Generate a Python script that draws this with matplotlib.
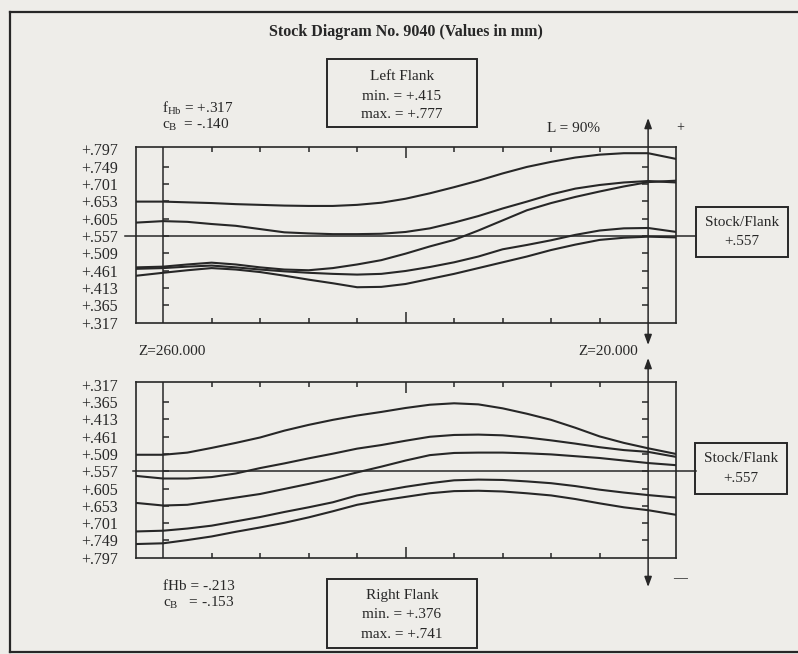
import numpy as np
import matplotlib.pyplot as plt
from matplotlib.patches import Rectangle
from matplotlib.lines import Line2D
from matplotlib.transforms import blended_transform_factory

plt.rcParams['font.family'] = ['Liberation Serif', 'DejaVu Serif']
plt.rcParams['mathtext.fontset'] = 'custom'
plt.rcParams['mathtext.rm'] = 'Liberation Serif'
plt.rcParams['mathtext.it'] = 'Liberation Serif:italic'

# measuring positions along the face width (Z in mm)
z_pts = [273, 260, 248, 236, 224, 212, 200, 188, 176, 164, 152, 140,
         128, 116, 104, 92, 80, 68, 56, 44, 32, 20, 6]

# left flank traces
left_a = [0.652, 0.652, 0.650, 0.648, 0.645, 0.643, 0.641, 0.640, 0.640, 0.643, 0.649, 0.660,
          0.675, 0.692, 0.710, 0.730, 0.748, 0.762, 0.774, 0.782, 0.786, 0.786, 0.770]
left_b = [0.594, 0.598, 0.596, 0.590, 0.585, 0.576, 0.567, 0.564, 0.562, 0.562, 0.563, 0.568,
          0.578, 0.594, 0.612, 0.633, 0.652, 0.672, 0.688, 0.698, 0.705, 0.709, 0.705]
left_c = [0.470, 0.472, 0.478, 0.483, 0.478, 0.470, 0.464, 0.462, 0.468, 0.478, 0.490, 0.508,
          0.528, 0.546, 0.572, 0.600, 0.628, 0.648, 0.665, 0.680, 0.694, 0.706, 0.710]
left_d = [0.466, 0.468, 0.472, 0.475, 0.470, 0.464, 0.459, 0.455, 0.452, 0.450, 0.452, 0.460,
          0.471, 0.484, 0.500, 0.520, 0.532, 0.545, 0.560, 0.572, 0.578, 0.579, 0.568]
left_e = [0.447, 0.455, 0.462, 0.468, 0.464, 0.457, 0.447, 0.436, 0.426, 0.415, 0.416, 0.424,
          0.438, 0.452, 0.468, 0.484, 0.500, 0.518, 0.533, 0.546, 0.552, 0.555, 0.553]

# right flank traces
right_a = [0.511, 0.511, 0.505, 0.492, 0.478, 0.463, 0.444, 0.428, 0.414, 0.402, 0.392, 0.381,
           0.372, 0.368, 0.371, 0.382, 0.397, 0.414, 0.436, 0.460, 0.478, 0.493, 0.509]
right_b = [0.570, 0.577, 0.577, 0.573, 0.563, 0.548, 0.535, 0.521, 0.508, 0.494, 0.484, 0.472,
           0.461, 0.456, 0.455, 0.457, 0.463, 0.471, 0.480, 0.490, 0.498, 0.503, 0.517]
right_c = [0.645, 0.652, 0.650, 0.640, 0.630, 0.620, 0.606, 0.592, 0.577, 0.560, 0.544, 0.527,
           0.512, 0.506, 0.505, 0.505, 0.507, 0.510, 0.515, 0.520, 0.527, 0.534, 0.540]
right_d = [0.724, 0.722, 0.716, 0.708, 0.696, 0.684, 0.670, 0.657, 0.643, 0.624, 0.612, 0.600,
           0.590, 0.582, 0.580, 0.581, 0.585, 0.590, 0.598, 0.608, 0.616, 0.623, 0.630]
right_e = [0.759, 0.757, 0.748, 0.738, 0.725, 0.713, 0.700, 0.685, 0.668, 0.650, 0.638, 0.628,
           0.618, 0.612, 0.611, 0.613, 0.618, 0.624, 0.634, 0.646, 0.657, 0.665, 0.678]

levels = [0.797, 0.749, 0.701, 0.653, 0.605, 0.557, 0.509, 0.461, 0.413, 0.365, 0.317]
level_labels = ['+.797', '+.749', '+.701', '+.653', '+.605', '+.557',
                '+.509', '+.461', '+.413', '+.365', '+.317']
z_start, z_end = 260, 20
z_ticks = [236, 212, 188, 164, 116, 92, 68, 44]
z_mid = 140
stock = 0.557

bg = '#eeede9'
ink = '#272727'
W, H = 798, 654


def fx(px):
    return px / W


def fy(py):
    return 1 - py / H


fig = plt.figure(figsize=(W / 100, H / 100), dpi=100)
fig.patch.set_facecolor(bg)

ax_top = fig.add_axes([fx(136), fy(323), (676 - 136) / W, (323 - 146.7) / H])
ax_bot = fig.add_axes([fx(136), fy(557.7), (676 - 136) / W, (557.7 - 381.7) / H])


def draw_panel(ax, curves, ylim, stock_x0):
    ax.set_facecolor(bg)
    for c in curves:
        ax.plot(z_pts, c, color=ink, lw=1.5)
    ax.set_xlim(273.4, 6.2)
    ax.set_ylim(*ylim)
    ax.set_yticks(levels, level_labels)
    ax.tick_params(axis='y', length=0, pad=13, labelsize=11.5, labelcolor=ink)
    ax.set_xticks([z_mid])
    ax.set_xticks(z_ticks, minor=True)
    ax.tick_params(axis='x', which='both', direction='in', top=True, bottom=True,
                   labelbottom=False, color=ink, width=1.1)
    ax.tick_params(axis='x', which='major', length=8)
    ax.tick_params(axis='x', which='minor', length=3.5)
    for s in ax.spines.values():
        s.set_linewidth(1.2)
        s.set_color(ink)
    ax.axvline(z_start, color=ink, lw=1.1)
    inner = levels[1:-1]
    ax.plot([z_start] * len(inner), inner, ls='none', marker=1, ms=4, mew=1.1, color=ink)
    ax.plot([z_end] * len(inner), inner, ls='none', marker=0, ms=4, mew=1.1, color=ink)
    trans = blended_transform_factory(fig.transFigure, ax.transData)
    ax.add_line(Line2D([fx(stock_x0), fx(696)], [stock, stock], transform=trans,
                       color=ink, lw=1.1, clip_on=False))


draw_panel(ax_top, [left_a, left_b, left_c, left_d, left_e], (0.316, 0.804), 125)
draw_panel(ax_bot, [right_a, right_b, right_c, right_d, right_e], (0.797, 0.308), 133)

# arrows along Z=20
arrow = dict(arrowstyle='<|-|>,head_length=0.6,head_width=0.22', color=ink, lw=1.1,
             shrinkA=0, shrinkB=0)
ax_top.annotate('', xy=(z_end, fy(118)), xytext=(z_end, fy(345)),
                xycoords=('data', 'figure fraction'), textcoords=('data', 'figure fraction'),
                arrowprops=arrow, annotation_clip=False)
ax_bot.annotate('', xy=(z_end, fy(358)), xytext=(z_end, fy(587)),
                xycoords=('data', 'figure fraction'), textcoords=('data', 'figure fraction'),
                arrowprops=arrow, annotation_clip=False)

# frame
for xs, ys in [([10, 798], [12, 12]), ([10, 10], [12, 652]), ([10, 798], [652, 652])]:
    fig.add_artist(Line2D([fx(x) for x in xs], [fy(y) for y in ys], color=ink, lw=1.6))

fig.text(fx(406), fy(32), 'Stock Diagram No. 9040 (Values in mm)', ha='center', va='center',
         fontsize=11.5, fontweight='bold', color=ink)


def box(x0, y0, x1, y1, lines, ys, xc):
    fig.add_artist(Rectangle((fx(x0), fy(y1)), (x1 - x0) / W, (y1 - y0) / H,
                             transform=fig.transFigure, fill=False, ec=ink, lw=1.4))
    for t, y in zip(lines, ys):
        fig.text(fx(xc), fy(y), t, ha='center', va='center', fontsize=11, color=ink)


box(327, 59, 477, 127, ['Left Flank', 'min. = +.415', 'max. = +.777'], [77, 96, 115], 402)
box(327, 579, 477, 648, ['Right Flank', 'min. = +.376', 'max. = +.741'], [596, 615, 634], 402)
box(696, 207, 788, 257, ['Stock/Flank', '+.557'], [223, 242], 742)
box(695, 443, 787, 494, ['Stock/Flank', '+.557'], [459, 478], 741)

fig.text(fx(162), fy(108), r'f$_{\mathregular{Hb}}$ = +.317', ha='left', va='center', fontsize=11, color=ink)
fig.text(fx(162), fy(125), r'c$_{\mathregular{B}}$  = -.140', ha='left', va='center', fontsize=11, color=ink)
fig.text(fx(163), fy(587), 'fHb = -.213', ha='left', va='center', fontsize=11, color=ink)
fig.text(fx(163), fy(603), r'c$_{\mathregular{B}}$   = -.153', ha='left', va='center', fontsize=11, color=ink)
fig.text(fx(600), fy(128), 'L = 90%', ha='right', va='center', fontsize=11, color=ink)
fig.text(fx(680), fy(128), '+', ha='center', va='center', fontsize=10, color=ink)
fig.text(fx(680), fy(579), '—', ha='center', va='center', fontsize=10, color=ink)
fig.text(fx(138), fy(352), 'Z=260.000', ha='left', va='center', fontsize=11, color=ink)
fig.text(fx(638), fy(352), 'Z=20.000', ha='right', va='center', fontsize=11, color=ink)

fig.savefig('out.png', dpi=100, facecolor=fig.get_facecolor())
